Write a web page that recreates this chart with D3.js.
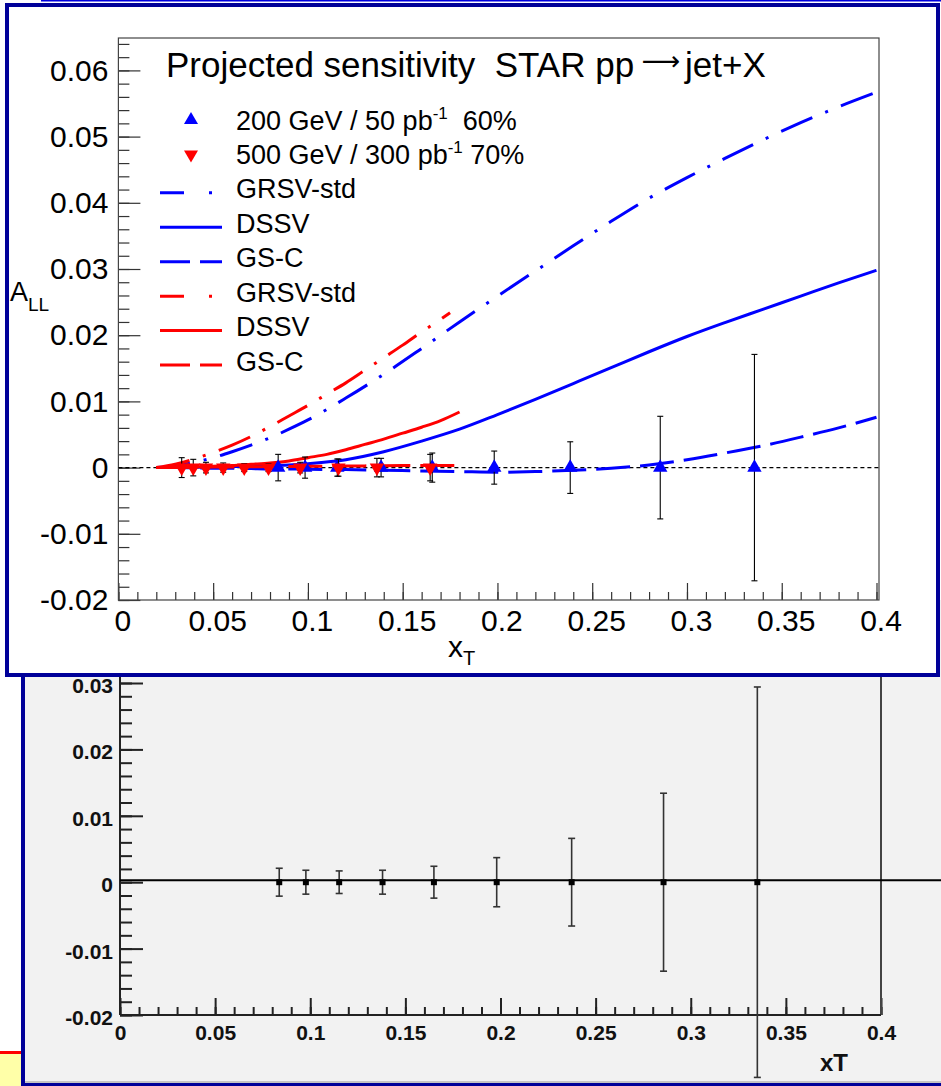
<!DOCTYPE html>
<html>
<head>
<meta charset="utf-8">
<script src="https://d3js.org/d3.v7.min.js"></script>
<style>
body { margin: 0; padding: 0; background: #fff; }
svg { display: block; font-family: "Liberation Sans", Arial, Helvetica, sans-serif; }
text { white-space: pre; }
</style>
</head>
<body>
<svg width="941" height="1086"></svg>
<script>
// ---- data ----
var xTicks = [0, 0.05, 0.1, 0.15, 0.2, 0.25, 0.3, 0.35, 0.4];
var xTickLabels = ["0", "0.05", "0.1", "0.15", "0.2", "0.25", "0.3", "0.35", "0.4"];
var topYTicks = [-0.02, -0.01, 0, 0.01, 0.02, 0.03, 0.04, 0.05, 0.06];
var topYTickLabels = ["-0.02", "-0.01", "0", "0.01", "0.02", "0.03", "0.04", "0.05", "0.06"];
var botYTicks = [-0.02, -0.01, 0, 0.01, 0.02, 0.03];
var botYTickLabels = ["-0.02", "-0.01", "0", "0.01", "0.02", "0.03"];

// 200 GeV / 50 pb-1 projected points (top panel)
var blueX = [0.0843, 0.0985, 0.1155, 0.1386, 0.1656, 0.1983, 0.2384, 0.2859, 0.3356];
var blueY = [0, 0, 0, 0, 0, 0, 0, 0, 0];
var blueErr = [0.0020, 0.0016, 0.0013, 0.0014, 0.0022, 0.0025, 0.0039, 0.00775, 0.0171];

// 500 GeV / 300 pb-1 projected points (top panel)
var redX = [0.0334, 0.0395, 0.0462, 0.0553, 0.0664, 0.0792, 0.0959, 0.1161, 0.1364, 0.1645];
var redY = [0, 0, 0, 0, 0, 0, 0, 0, 0, 0];
var redErr = [0.0015, 0.00125, 0.0008, 0.0007, 0.0006, 0.0006, 0.0008, 0.0013, 0.0014, 0.0020];

// theory curves, 200 GeV
var blueGrid = [0.02, 0.03, 0.04, 0.05, 0.06, 0.07, 0.08, 0.09, 0.10, 0.12, 0.14, 0.16, 0.18, 0.20, 0.22, 0.24, 0.26, 0.28, 0.30, 0.32, 0.34, 0.36, 0.38, 0.40];
var blueGRSV = [0, 0.0003, 0.0008, 0.0015, 0.0024, 0.0034, 0.0045, 0.0058, 0.0072, 0.0105, 0.0141, 0.0180, 0.0220, 0.0259, 0.0297, 0.0335, 0.0372, 0.0407, 0.0438, 0.0467, 0.0495, 0.0521, 0.0545, 0.0567];
var blueDSSV = [0, 0.00003, 0.00007, 0.0001, 0.00015, 0.0002, 0.0003, 0.0004, 0.0006, 0.0012, 0.0024, 0.0040, 0.0058, 0.0080, 0.0103, 0.0127, 0.0151, 0.0175, 0.0198, 0.0219, 0.0239, 0.0259, 0.0279, 0.0298];
var blueGSC = [0, 0, -0.00005, -0.0001, -0.0001, -0.00015, -0.0002, -0.0002, -0.00025, -0.0003, -0.0004, -0.0005, -0.0006, -0.0007, -0.0006, -0.0004, -0.0001, 0.0004, 0.0012, 0.0022, 0.0033, 0.0046, 0.0060, 0.0076];

// theory curves, 500 GeV
var redGrid = [0.02, 0.03, 0.04, 0.05, 0.06, 0.07, 0.08, 0.09, 0.10, 0.11, 0.12, 0.13, 0.14, 0.15, 0.16, 0.17, 0.18];
var redGrsvGrid = [0.02, 0.03, 0.04, 0.05, 0.06, 0.07, 0.08, 0.09, 0.10, 0.11, 0.12, 0.13, 0.14, 0.15, 0.16, 0.17, 0.175];
var redGRSV = [0, 0.0005, 0.0013, 0.0023, 0.0034, 0.0047, 0.0062, 0.0078, 0.0094, 0.0111, 0.0128, 0.0147, 0.0166, 0.0185, 0.0205, 0.0224, 0.0234];
var redDSSV = [0, 0.00005, 0.0001, 0.0002, 0.0003, 0.0005, 0.0007, 0.0010, 0.0015, 0.0020, 0.0027, 0.0035, 0.0043, 0.0052, 0.0061, 0.0071, 0.0084];
var redGSC = [0, 0.00003, 0.00005, 0.00008, 0.0001, 0.00012, 0.00015, 0.00017, 0.0002, 0.00022, 0.00024, 0.00026, 0.00028, 0.0003, 0.0003, 0.0003, 0.0003];

// lower panel points
var botX = [0.0837, 0.0977, 0.1152, 0.138, 0.165, 0.198, 0.2374, 0.2857, 0.335];
var botY = [0, 0, 0, 0, 0, 0, 0, 0, 0];
var botErr = [0.0021, 0.0018, 0.0017, 0.0018, 0.0024, 0.0037, 0.0066, 0.0134, 0.0294];

var legendLabels = ["GRSV-std", "DSSV", "GS-C", "GRSV-std", "DSSV", "GS-C"];

// ---- drawing ----
var svg = d3.select("svg");
var fontFam = "Liberation Sans, Arial, Helvetica, sans-serif";
var navy = "#000099";

function zip(xs, ys) {
    return xs.map(function(x, i) { return {x: x, y: ys[i]}; });
}

// slide bits around the panels
svg.append("rect").attr("x", 41).attr("y", 0).attr("width", 900).attr("height", 1.5).attr("fill", "#0000dd");
svg.append("rect").attr("x", 0).attr("y", 1051).attr("width", 21).attr("height", 3).attr("fill", "#ff0000");
svg.append("rect").attr("x", 0).attr("y", 1054).attr("width", 21).attr("height", 32).attr("fill", "#ffffa8");

// lower panel background
svg.append("rect").attr("x", 21).attr("y", 600).attr("width", 920).attr("height", 486).attr("fill", "#f2f2f2");
svg.append("rect").attr("x", 21).attr("y", 600).attr("width", 4).attr("height", 486).attr("fill", navy);
svg.append("rect").attr("x", 25).attr("y", 1081).attr("width", 916).attr("height", 2).attr("fill", "#c4c4c4");
svg.append("rect").attr("x", 21).attr("y", 1083).attr("width", 920).attr("height", 3).attr("fill", navy);

// ---------- lower panel ----------
var xb = d3.scaleLinear().domain([0, 0.4]).range([120, 881]);
var yb = d3.scaleLinear().domain([-0.02, 0.03]).range([1015, 683]);
var bot = svg.append("g");

var botMinorY = d3.range(-0.02, 0.0361, 0.002);
var botMinorX = d3.range(0, 0.4001, 0.01);

bot.append("g").attr("transform", "translate(" + xb(0) + ",0)")
    .call(d3.axisLeft(yb).tickValues(botMinorY).tickSizeInner(-12).tickSizeOuter(0).tickFormat(""))
    .call(function(g) { g.select(".domain").remove(); })
    .attr("color", "#222").selectAll("line").attr("stroke-width", 2);
bot.append("g").attr("transform", "translate(" + xb(0) + ",0)")
    .call(d3.axisLeft(yb).tickValues(botYTicks).tickSizeInner(-23).tickSizeOuter(0).tickPadding(7)
        .tickFormat(function(d, i) { return botYTickLabels[i]; }))
    .call(function(g) { g.select(".domain").remove(); })
    .attr("color", "#222").attr("font-family", fontFam).attr("font-size", 21).attr("font-weight", "bold")
    .call(function(g) { g.selectAll("line").attr("stroke-width", 2); g.selectAll("text").attr("dy", "0.45em").attr("fill", "#111"); });

bot.append("g").attr("transform", "translate(0," + yb(-0.02) + ")")
    .call(d3.axisBottom(xb).tickValues(botMinorX).tickSizeInner(-8).tickSizeOuter(0).tickFormat(""))
    .call(function(g) { g.select(".domain").remove(); })
    .attr("color", "#222").selectAll("line").attr("stroke-width", 2);
bot.append("g").attr("transform", "translate(0," + yb(-0.02) + ")")
    .call(d3.axisBottom(xb).tickValues(xTicks).tickSizeInner(-17).tickSizeOuter(0).tickPadding(10)
        .tickFormat(function(d, i) { return xTickLabels[i]; }))
    .call(function(g) { g.select(".domain").remove(); })
    .attr("color", "#222").attr("font-family", fontFam).attr("font-size", 21).attr("font-weight", "bold")
    .call(function(g) { g.selectAll("line").attr("stroke-width", 2); g.selectAll("text").attr("fill", "#111"); });

// frame lines
bot.append("line").attr("x1", xb(0)).attr("x2", xb(0)).attr("y1", 600).attr("y2", yb(-0.02))
    .attr("stroke", "#222").attr("stroke-width", 2);
bot.append("line").attr("x1", xb(0.4)).attr("x2", xb(0.4)).attr("y1", 600).attr("y2", yb(-0.02))
    .attr("stroke", "#444").attr("stroke-width", 2);
bot.append("line").attr("x1", xb(0)).attr("x2", xb(0.4)).attr("y1", yb(-0.02)).attr("y2", yb(-0.02))
    .attr("stroke", "#222").attr("stroke-width", 2);

// horizontal zero line running to the slide edge
bot.append("line").attr("x1", xb(0)).attr("x2", 941).attr("y1", yb(0) - 2).attr("y2", yb(0) - 2)
    .attr("stroke", "#000").attr("stroke-width", 2);

var botPts = botX.map(function(x, i) { return {x: x, y: botY[i], e: botErr[i]}; });
var be = bot.append("g").selectAll("g").data(botPts).enter().append("g");
be.append("line")
    .attr("x1", function(d) { return xb(d.x); }).attr("x2", function(d) { return xb(d.x); })
    .attr("y1", function(d) { return yb(d.y - d.e); }).attr("y2", function(d) { return yb(d.y + d.e); })
    .attr("stroke", "#333").attr("stroke-width", 1.6);
be.append("line")
    .attr("x1", function(d) { return xb(d.x) - 3.5; }).attr("x2", function(d) { return xb(d.x) + 3.5; })
    .attr("y1", function(d) { return yb(d.y + d.e); }).attr("y2", function(d) { return yb(d.y + d.e); })
    .attr("stroke", "#333").attr("stroke-width", 1.6);
be.append("line")
    .attr("x1", function(d) { return xb(d.x) - 3.5; }).attr("x2", function(d) { return xb(d.x) + 3.5; })
    .attr("y1", function(d) { return yb(d.y - d.e); }).attr("y2", function(d) { return yb(d.y - d.e); })
    .attr("stroke", "#333").attr("stroke-width", 1.6);
be.append("rect")
    .attr("x", function(d) { return xb(d.x) - 3; }).attr("y", function(d) { return yb(d.y) - 3; })
    .attr("width", 6).attr("height", 6).attr("fill", "#000");

bot.append("text").attr("x", 820).attr("y", 1071).attr("font-size", 24).attr("font-weight", "bold")
    .attr("fill", "#111").text("xT");

// ---------- upper panel ----------
svg.append("rect").attr("x", 7).attr("y", 5).attr("width", 931).attr("height", 670)
    .attr("fill", "#fff").attr("stroke", navy).attr("stroke-width", 4);

var x = d3.scaleLinear().domain([0, 0.4]).range([118.4, 876.5]);
var y = d3.scaleLinear().domain([-0.02, 0.06]).range([600, 70.4]);
var upper = svg.append("g");

var topMinorY = d3.range(-0.02, 0.0649, 0.002);
var topMinorX = d3.range(0, 0.4001, 0.01);

upper.append("g").attr("transform", "translate(" + x(0) + ",0)")
    .call(d3.axisLeft(y).tickValues(topMinorY).tickSizeInner(-11).tickSizeOuter(0).tickFormat(""))
    .call(function(g) { g.select(".domain").remove(); })
    .attr("color", "#333").selectAll("line").attr("stroke-width", 1.2);
upper.append("g").attr("transform", "translate(" + x(0) + ",0)")
    .call(d3.axisLeft(y).tickValues(topYTicks).tickSizeInner(-22).tickSizeOuter(0).tickPadding(10)
        .tickFormat(function(d, i) { return topYTickLabels[i]; }))
    .call(function(g) { g.select(".domain").remove(); })
    .attr("color", "#333").attr("font-family", fontFam).attr("font-size", 30)
    .call(function(g) { g.selectAll("line").attr("stroke-width", 1.2); g.selectAll("text").attr("fill", "#000"); });

upper.append("g").attr("transform", "translate(0," + y(-0.02) + ")")
    .call(d3.axisBottom(x).tickValues(topMinorX).tickSizeInner(-8).tickSizeOuter(0).tickFormat(""))
    .call(function(g) { g.select(".domain").remove(); })
    .attr("color", "#333").selectAll("line").attr("stroke-width", 1.2);
upper.append("g").attr("transform", "translate(0," + y(-0.02) + ")")
    .call(d3.axisBottom(x).tickValues(xTicks).tickSizeInner(-17).tickSizeOuter(0).tickPadding(10)
        .tickFormat(function(d, i) { return xTickLabels[i]; }))
    .call(function(g) { g.select(".domain").remove(); })
    .attr("color", "#333").attr("font-family", fontFam).attr("font-size", 30)
    .call(function(g) { g.selectAll("line").attr("stroke-width", 1.2); g.selectAll("text").attr("fill", "#000").attr("dx", 4); });

// frame
upper.append("rect").attr("x", x(0)).attr("y", 38).attr("width", 879 - x(0)).attr("height", y(-0.02) - 38)
    .attr("fill", "none").attr("stroke", "#444").attr("stroke-width", 1.2);

// dotted zero line
upper.append("line").attr("x1", x(0)).attr("x2", 879).attr("y1", y(0)).attr("y2", y(0))
    .attr("stroke", "#000").attr("stroke-width", 1.2).attr("stroke-dasharray", "4,3");

var line = d3.line()
    .x(function(d) { return x(d.x); })
    .y(function(d) { return y(d.y); })
    .curve(d3.curveMonotoneX);

var dashGRSV = "34,14,3,14";
var dashGSC = "34,10";

var curves = [
    {pts: zip(blueGrid, blueGRSV), color: "#0000ff", dash: dashGRSV},
    {pts: zip(blueGrid, blueDSSV), color: "#0000ff", dash: null},
    {pts: zip(blueGrid, blueGSC), color: "#0000ff", dash: dashGSC},
    {pts: zip(redGrsvGrid, redGRSV), color: "#ff0000", dash: dashGRSV},
    {pts: zip(redGrid, redDSSV), color: "#ff0000", dash: null},
    {pts: zip(redGrid, redGSC), color: "#ff0000", dash: dashGSC}
];

upper.append("g").selectAll("path").data(curves).enter().append("path")
    .attr("d", function(d) { return line(d.pts); })
    .attr("fill", "none")
    .attr("stroke", function(d) { return d.color; })
    .attr("stroke-width", 3)
    .attr("stroke-dasharray", function(d) { return d.dash; });

function drawPoints(xs, ys, es, color, rot) {
    var pts = xs.map(function(v, i) { return {x: v, y: ys[i], e: es[i]}; });
    var g = upper.append("g").selectAll("g").data(pts).enter().append("g");
    g.append("line")
        .attr("x1", function(d) { return x(d.x); }).attr("x2", function(d) { return x(d.x); })
        .attr("y1", function(d) { return y(d.y - d.e); }).attr("y2", function(d) { return y(d.y + d.e); })
        .attr("stroke", "#000").attr("stroke-width", 1.1);
    g.append("line")
        .attr("x1", function(d) { return x(d.x) - 3; }).attr("x2", function(d) { return x(d.x) + 3; })
        .attr("y1", function(d) { return y(d.y + d.e); }).attr("y2", function(d) { return y(d.y + d.e); })
        .attr("stroke", "#000").attr("stroke-width", 1.1);
    g.append("line")
        .attr("x1", function(d) { return x(d.x) - 3; }).attr("x2", function(d) { return x(d.x) + 3; })
        .attr("y1", function(d) { return y(d.y - d.e); }).attr("y2", function(d) { return y(d.y - d.e); })
        .attr("stroke", "#000").attr("stroke-width", 1.1);
    g.append("path")
        .attr("d", d3.symbol().type(d3.symbolTriangle).size(90))
        .attr("transform", function(d) { return "translate(" + x(d.x) + "," + y(d.y) + ") rotate(" + rot + ")"; })
        .attr("fill", color);
}
drawPoints(blueX, blueY, blueErr, "#0000ff", 0);
drawPoints(redX, redY, redErr, "#ff0000", 180);

// title (long thin arrow like the ROOT symbol arrow)
upper.append("text").attr("x", 166).attr("y", 77).attr("font-size", 35).attr("fill", "#000")
    .text("Projected sensitivity  STAR pp");
upper.append("text").attr("x", 661).attr("y", 70).attr("font-size", 27).attr("text-anchor", "middle")
    .attr("font-family", "DejaVu Sans, sans-serif").attr("fill", "#000").text("\u27F6");
upper.append("text").attr("x", 685).attr("y", 77).attr("font-size", 35).attr("fill", "#000")
    .text("jet+X");

// legend
var legY = d3.scaleLinear().domain([0, 7]).range([120, 361]);
var leg = upper.append("g").attr("font-size", 27).attr("fill", "#000");

leg.append("path").attr("d", d3.symbol().type(d3.symbolTriangle).size(85))
    .attr("transform", "translate(191," + legY(0) + ")").attr("fill", "#0000ff");
leg.append("path").attr("d", d3.symbol().type(d3.symbolTriangle).size(85))
    .attr("transform", "translate(191," + legY(1) + ") rotate(180)").attr("fill", "#ff0000");

var t1 = leg.append("text").attr("x", 236).attr("y", legY(0) + 9.5);
t1.append("tspan").text("200 GeV / 50 pb");
t1.append("tspan").attr("font-size", 17).attr("dy", -11).text("-1");
t1.append("tspan").attr("dy", 11).text("  60%");
var t2 = leg.append("text").attr("x", 236).attr("y", legY(1) + 9.5);
t2.append("tspan").text("500 GeV / 300 pb");
t2.append("tspan").attr("font-size", 17).attr("dy", -11).text("-1");
t2.append("tspan").attr("dy", 11).text(" 70%");

var legDash = ["24,25,3,40", null, "30,10", "24,25,3,40", null, "30,10"];
var legColor = ["#0000ff", "#0000ff", "#0000ff", "#ff0000", "#ff0000", "#ff0000"];
legendLabels.forEach(function(lab, i) {
    leg.append("line").attr("x1", 160).attr("x2", 222)
        .attr("y1", legY(i + 2) + 4).attr("y2", legY(i + 2) + 4)
        .attr("stroke", legColor[i]).attr("stroke-width", 3)
        .attr("stroke-dasharray", legDash[i]);
    leg.append("text").attr("x", 236).attr("y", legY(i + 2) + 9.5).text(lab);
});

// axis titles
var ya = upper.append("text").attr("x", 10).attr("y", 301).attr("font-size", 27).attr("fill", "#000");
ya.append("tspan").text("A");
ya.append("tspan").attr("font-size", 19).attr("dy", 10).text("LL");

var xa = upper.append("text").attr("x", 448).attr("y", 657).attr("font-size", 30).attr("fill", "#000");
xa.append("tspan").text("x");
xa.append("tspan").attr("font-size", 20).attr("dy", 8).text("T");
</script>
</body>
</html>
